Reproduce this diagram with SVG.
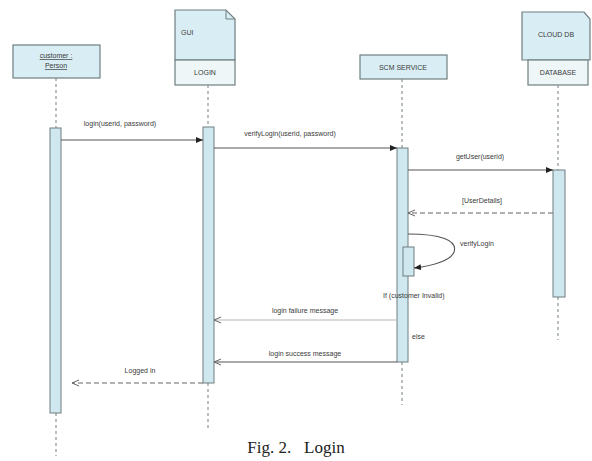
<svg xmlns="http://www.w3.org/2000/svg" width="592" height="461" viewBox="0 0 592 461">
<defs>
<style>
.box{fill:#d9eef4;stroke:#6f7f80;stroke-width:1.2}
.low{fill:#eef6f8;stroke:#6f7f80;stroke-width:1.2}
.act{fill:#cfe7ee;stroke:#6f7f80;stroke-width:1}
.life{stroke:#8a9596;stroke-width:1.2;stroke-dasharray:3,3;fill:none}
.msg{stroke:#555;stroke-width:1.1;fill:none}
.ret{stroke:#666;stroke-width:1.1;fill:none;stroke-dasharray:5,3}
.faint{stroke:#b5b5b5;stroke-width:1;fill:none}
.t{font-family:"Liberation Sans",Arial,sans-serif;font-size:7px;fill:#3a3a3a}
.cap{font-family:"Liberation Serif","Times New Roman",serif;font-size:17px;fill:#222}
</style>
<marker id="fill" markerWidth="8" markerHeight="8" refX="7" refY="4" orient="auto" markerUnits="userSpaceOnUse"><path d="M0,1 L7,4 L0,7 z" fill="#222"/></marker>
<marker id="open" markerWidth="8" markerHeight="8" refX="7" refY="4" orient="auto" markerUnits="userSpaceOnUse"><path d="M0,1 L7,4 L0,7" fill="none" stroke="#666" stroke-width="1"/></marker>
</defs>
<rect width="592" height="461" fill="#ffffff"/>

<g id="customer">
<rect class="box" x="13" y="45" width="87" height="33"/>
<text class="t" x="56" y="58" text-anchor="middle" text-decoration="underline">customer :</text>
<text class="t" x="56" y="68" text-anchor="middle" text-decoration="underline">Person</text>
<line class="life" x1="56" y1="78" x2="56" y2="128"/>
<line class="life" x1="56" y1="413" x2="56" y2="456"/>
<rect class="act" x="50" y="128" width="11" height="285"/>
</g>

<g id="login">
<path class="box" d="M175,10 H226 L235,19 V60 H175 Z"/>
<path d="M226,10 V19 H235" fill="none" stroke="#6f7f80" stroke-width="1"/>
<text class="t" x="181" y="35">GUI</text>
<rect class="low" x="175" y="60" width="60" height="25"/>
<text class="t" x="205" y="75" text-anchor="middle">LOGIN</text>
<line class="life" x1="208" y1="85" x2="208" y2="127"/>
<line class="life" x1="208" y1="383" x2="208" y2="430"/>
<rect class="act" x="203" y="127" width="11" height="256"/>
</g>

<g id="service">
<rect class="box" x="360" y="55" width="87" height="24"/>
<text class="t" x="403" y="70" text-anchor="middle">SCM SERVICE</text>
<line class="life" x1="402" y1="79" x2="402" y2="148"/>
<line class="life" x1="402" y1="362" x2="402" y2="405"/>
<rect class="act" x="397" y="148" width="11" height="214"/>
<rect class="act" x="403" y="247" width="11" height="29"/>
</g>

<g id="database">
<path class="box" d="M522,12 H584 L590,19 V60 H522 Z"/>
<text class="t" x="556" y="37" text-anchor="middle">CLOUD DB</text>
<rect class="low" x="528" y="60" width="60" height="25"/>
<text class="t" x="558" y="75" text-anchor="middle">DATABASE</text>
<line class="life" x1="558" y1="85" x2="558" y2="170"/>
<line class="life" x1="558" y1="297" x2="558" y2="340"/>
<rect class="act" x="553" y="170" width="12" height="127"/>
</g>

<g id="connectors">
<line class="msg" x1="61" y1="140" x2="203" y2="140" marker-end="url(#fill)"/>
<text class="t" x="120" y="126" text-anchor="middle">login(userid, password)</text>
<line class="msg" x1="214" y1="148" x2="397" y2="148" marker-end="url(#fill)"/>
<text class="t" x="290" y="136" text-anchor="middle">verifyLogin(userid, password)</text>
<line class="msg" x1="408" y1="170" x2="553" y2="170" marker-end="url(#fill)"/>
<text class="t" x="480" y="159" text-anchor="middle">getUser(userid)</text>
<line class="ret" x1="553" y1="213" x2="408" y2="213" marker-end="url(#open)"/>
<text class="t" x="482" y="203" text-anchor="middle">[UserDetails]</text>
<path class="msg" d="M408,234 C440,234 458,240 454,252 C450,262 430,266 414,268" marker-end="url(#fill)"/>
<text class="t" x="460" y="246">verifyLogin</text>
<text class="t" x="383" y="298">If (customer Invalid)</text>
<line class="faint" x1="397" y1="320" x2="214" y2="320" marker-end="url(#open)"/>
<text class="t" x="305" y="313" text-anchor="middle">login failure message</text>
<text class="t" x="412" y="339">else</text>
<line class="msg" x1="397" y1="362" x2="214" y2="362" marker-end="url(#open)"/>
<text class="t" x="305" y="356" text-anchor="middle">login success message</text>
<line class="ret" x1="203" y1="383" x2="72" y2="383" marker-end="url(#open)"/>
<text class="t" x="140" y="373" text-anchor="middle">Logged in</text>
</g>

<text class="cap" x="296" y="453" text-anchor="middle" xml:space="preserve">Fig. 2.   Login</text>
</svg>
